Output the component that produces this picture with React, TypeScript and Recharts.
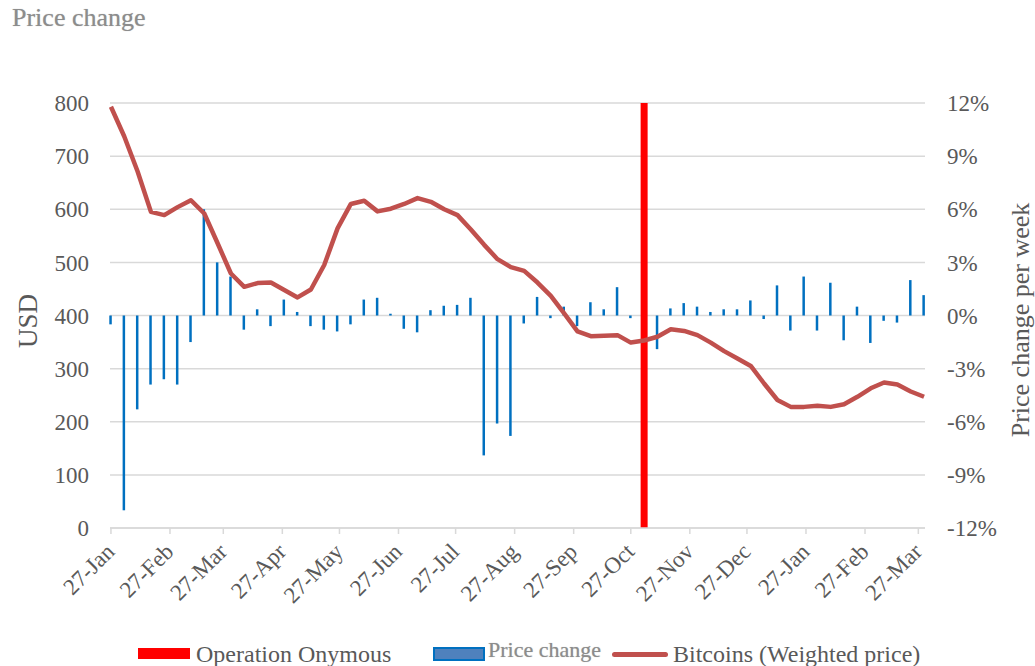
import React from "react";
import {
  ComposedChart,
  Bar,
  Line,
  XAxis,
  YAxis,
  CartesianGrid,
  ReferenceLine,
  Label,
} from "recharts";

const START_DATE = "2014-01-27";

const btcPrice = [
  793, 737, 671, 595, 589, 604, 617, 592, 536, 479, 454, 461, 462, 448, 434, 449,
  495, 564, 610, 616, 596, 601, 610, 621, 614, 600, 589, 562, 533, 506, 491, 484,
  462, 437, 404, 370, 361, 362, 363, 349, 353, 360, 374, 371, 363, 349, 333, 319,
  305, 272, 241, 228, 228, 230, 228, 233, 247, 263, 274, 270, 257, 247,
];

const priceChange = [
  -0.5, -11.0, -5.3, -3.9, -3.6, -3.9, -1.5, 6.0, 3.0, 2.2, -0.8, 0.35, -0.6, 0.9,
  0.2, -0.6, -0.8, -0.9, -0.5, 0.9, 1.0, 0.1, -0.75, -0.95, 0.3, 0.55, 0.6, 1.0,
  -7.9, -6.1, -6.8, -0.45, 1.05, -0.15, 0.5, -0.6, 0.75, 0.35, 1.6, -0.15, -0.6,
  -1.9, 0.4, 0.7, 0.5, 0.2, 0.35, 0.35, 0.85, -0.2, 1.7, -0.85, 2.2, -0.85, 1.85,
  -1.4, 0.5, -1.55, -0.3, -0.4, 2.0, 1.15,
];

const onymousDate = "2014-11-03";

const tickDates = [
  "2014-01-27", "2014-02-27", "2014-03-27", "2014-04-27", "2014-05-27",
  "2014-06-27", "2014-07-27", "2014-08-27", "2014-09-27", "2014-10-27",
  "2014-11-27", "2014-12-27", "2015-01-27", "2015-02-27", "2015-03-27",
];
const tickLabels = [
  "27-Jan", "27-Feb", "27-Mar", "27-Apr", "27-May", "27-Jun", "27-Jul", "27-Aug",
  "27-Sep", "27-Oct", "27-Nov", "27-Dec", "27-Jan", "27-Feb", "27-Mar",
];

const leftTicks = [0, 100, 200, 300, 400, 500, 600, 700, 800];
const rightTicks = [-12, -9, -6, -3, 0, 3, 6, 9, 12];

const DAY = 86400000;
const startMs = Date.parse(START_DATE);
const toDay = (d: string) => Math.round((Date.parse(d) - startMs) / DAY);

const data = btcPrice.map((p, i) => ({
  day: i * 7,
  price: p,
  change: priceChange[i],
}));
const tickDays = tickDates.map(toDay);
const onymousDay = toDay(onymousDate);

const FONT = '"Liberation Serif", "Times New Roman", serif';
const TXT = "#595959";

const XTick = (props: any) => {
  const { x, y, payload } = props;
  const idx = tickDays.indexOf(payload.value);
  return (
    <g transform={`translate(${x + 5},${y + 17})`}>
      <text
        textAnchor="end"
        transform="rotate(-45)"
        fill={TXT}
        fontSize={23}
        fontFamily={FONT}
      >
        {idx >= 0 ? tickLabels[idx] : ""}
      </text>
    </g>
  );
};

export default function App() {
  return (
    <div
      style={{
        position: "relative",
        width: 1035,
        height: 666,
        overflow: "hidden",
        fontFamily: FONT,
        background: "#fff",
      }}
    >
      <style>{"html,body{margin:0;padding:0;overflow:hidden;}"}</style>
      <div style={{ position: "absolute", left: 8, top: 8, width: 1027, height: 658 }}>
        <div
          style={{
            position: "absolute",
            left: 4,
            top: -3,
            fontSize: 26,
            lineHeight: "26px",
            color: "#8c8c8c",
            textShadow: "0 0 1px #bbb",
            whiteSpace: "nowrap",
          }}
        >
          Price change
        </div>
        <ComposedChart
          width={1027}
          height={650}
          data={data}
          margin={{ top: 95, right: 8, bottom: 0, left: 0 }}
        >
          <CartesianGrid
            yAxisId="left"
            vertical={false}
            stroke="#d9d9d9"
            strokeWidth={1.5}
          />
          <XAxis
            dataKey="day"
            type="number"
            domain={[-0.5, 427.5]}
            ticks={tickDays}
            interval={0}
            height={130}
            axisLine={{ stroke: "#d9d9d9", strokeWidth: 1.5 }}
            tickLine={{ stroke: "#d9d9d9", strokeWidth: 1.5 }}
            tickSize={6}
            tick={<XTick />}
          />
          <YAxis
            yAxisId="left"
            orientation="left"
            width={102}
            domain={[0, 800]}
            ticks={leftTicks}
            interval={0}
            axisLine={false}
            tickLine={false}
            tickSize={0}
            tickMargin={21}
            tick={{ fill: TXT, fontSize: 23, fontFamily: FONT }}
          >
            <Label
              content={() => (
                <text
                  x={29}
                  y={313}
                  transform="rotate(-90 29 313)"
                  textAnchor="middle"
                  fill={TXT}
                  fontSize={27}
                  fontFamily={FONT}
                >
                  USD
                </text>
              )}
            />
          </YAxis>
          <YAxis
            yAxisId="right"
            orientation="right"
            width={102}
            domain={[-12, 12]}
            ticks={rightTicks}
            interval={0}
            axisLine={false}
            tickLine={false}
            tickSize={0}
            tickMargin={22}
            tickFormatter={(v: number) => `${v}%`}
            tick={{ fill: TXT, fontSize: 23, fontFamily: FONT, textAnchor: "start" }}
          >
            <Label
              content={() => (
                <text
                  x={1021}
                  y={312}
                  transform="rotate(-90 1021 312)"
                  textAnchor="middle"
                  fill={TXT}
                  fontSize={26}
                  fontFamily={FONT}
                >
                  Price change per week
                </text>
              )}
            />
          </YAxis>
          <ReferenceLine
            yAxisId="left"
            x={onymousDay}
            stroke="#FF0000"
            strokeWidth={7}
            ifOverflow="extendDomain"
          />
          <Bar
            yAxisId="right"
            dataKey="change"
            fill="#0070C0"
            barSize={2.5}
            isAnimationActive={false}
          />
          <Line
            yAxisId="left"
            dataKey="price"
            type="linear"
            stroke="#C0504D"
            strokeWidth={4.5}
            strokeLinejoin="round"
            dot={false}
            activeDot={false}
            isAnimationActive={false}
          />
        </ComposedChart>
        {/* legend */}
        <div style={{ position: "absolute", left: 130, top: 639.7, width: 52, height: 11, background: "#FF0000" }} />
        <div
          style={{
            position: "absolute",
            left: 188,
            top: 634,
            fontSize: 24,
            lineHeight: "24px",
            color: TXT,
            whiteSpace: "nowrap",
          }}
        >
          Operation Onymous
        </div>
        <div
          style={{
            position: "absolute",
            left: 425,
            top: 638.7,
            width: 48,
            height: 10,
            background: "#4F81BD",
            border: "2px solid #0070C0",
          }}
        />
        <div
          style={{
            position: "absolute",
            left: 480,
            top: 631,
            fontSize: 22,
            lineHeight: "22px",
            color: "#8c8c8c",
            textShadow: "0 0 1px #bbb",
            whiteSpace: "nowrap",
          }}
        >
          Price change
        </div>
        <div
          style={{
            position: "absolute",
            left: 604,
            top: 643.5,
            width: 56,
            height: 5,
            borderRadius: 3,
            background: "#C0504D",
          }}
        />
        <div
          style={{
            position: "absolute",
            left: 665,
            top: 634,
            fontSize: 24,
            lineHeight: "24px",
            color: TXT,
            whiteSpace: "nowrap",
          }}
        >
          Bitcoins (Weighted price)
        </div>
      </div>
    </div>
  );
}
